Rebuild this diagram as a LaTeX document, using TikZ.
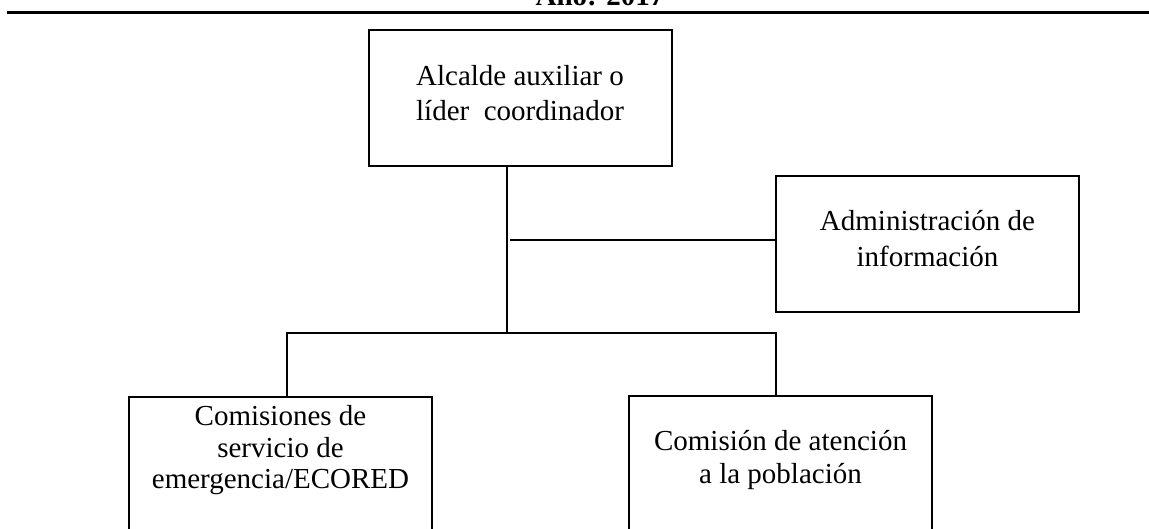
\documentclass[tikz,border=0pt]{standalone}
\usepackage{fontspec}
\setmainfont{Liberation Serif}
\usetikzlibrary{positioning}

\begin{document}
\begin{tikzpicture}[
    x=0.5pt, y=-0.5pt,
    box/.style={draw, line width=1pt, fill=white, rectangle, minimum width=151.5pt, minimum height=68pt, inner sep=0pt, align=center, font=\fontsize{14.5}{17.5}\selectfont},
    openbox/.style={box, minimum height=85pt, anchor=north},
    boxtext/.style={inner sep=0pt, align=center},
    link/.style={line width=0.9pt}
]
    \useasboundingbox (0,0) rectangle (1149,529);

    % Title and rule
    \node[font=\bfseries\fontsize{14.5}{17}\selectfont, anchor=base] (year) at (600,6) {Año: 2017};
    \draw[line width=1.5pt] (7,13) -- (1149,13);

    % Blocks
    \node[box, text depth=5pt] (mayor) at (520,98) {Alcalde auxiliar o\\líder\ \ coordinador};
    \node[box, text depth=6pt, font=\fontsize{14.5}{18}\selectfont] (info) at (927.5,244) {Administración de\\información};
    \node[openbox] (ecored) at (280.5,396) {};
    \node[openbox] (care) at (780.5,395) {};
    \node[boxtext, below=4.5pt of ecored.north, font=\fontsize{14.5}{15.75}\selectfont] (ecoredtext) {Comisiones de\\servicio de\\emergencia/ECORED};
    \node[boxtext, below=17.5pt of care.north, font=\fontsize{14.5}{16.5}\selectfont] (caretext) {Comisión de atención\\a la población};

    % Lines
    \coordinate (trunk) at (507,333);
    \coordinate (tap) at (510,240);
    \coordinate (busL) at (287,333);
    \coordinate (busR) at (776,333);
    \draw[link] (mayor.south -| trunk) -- (trunk);
    \draw[link] (tap) -- (tap -| info.west);
    \draw[link] (ecored.north -| busL) -- (busL) -- (busR) -- (care.north -| busR);
\end{tikzpicture}
\end{document}
